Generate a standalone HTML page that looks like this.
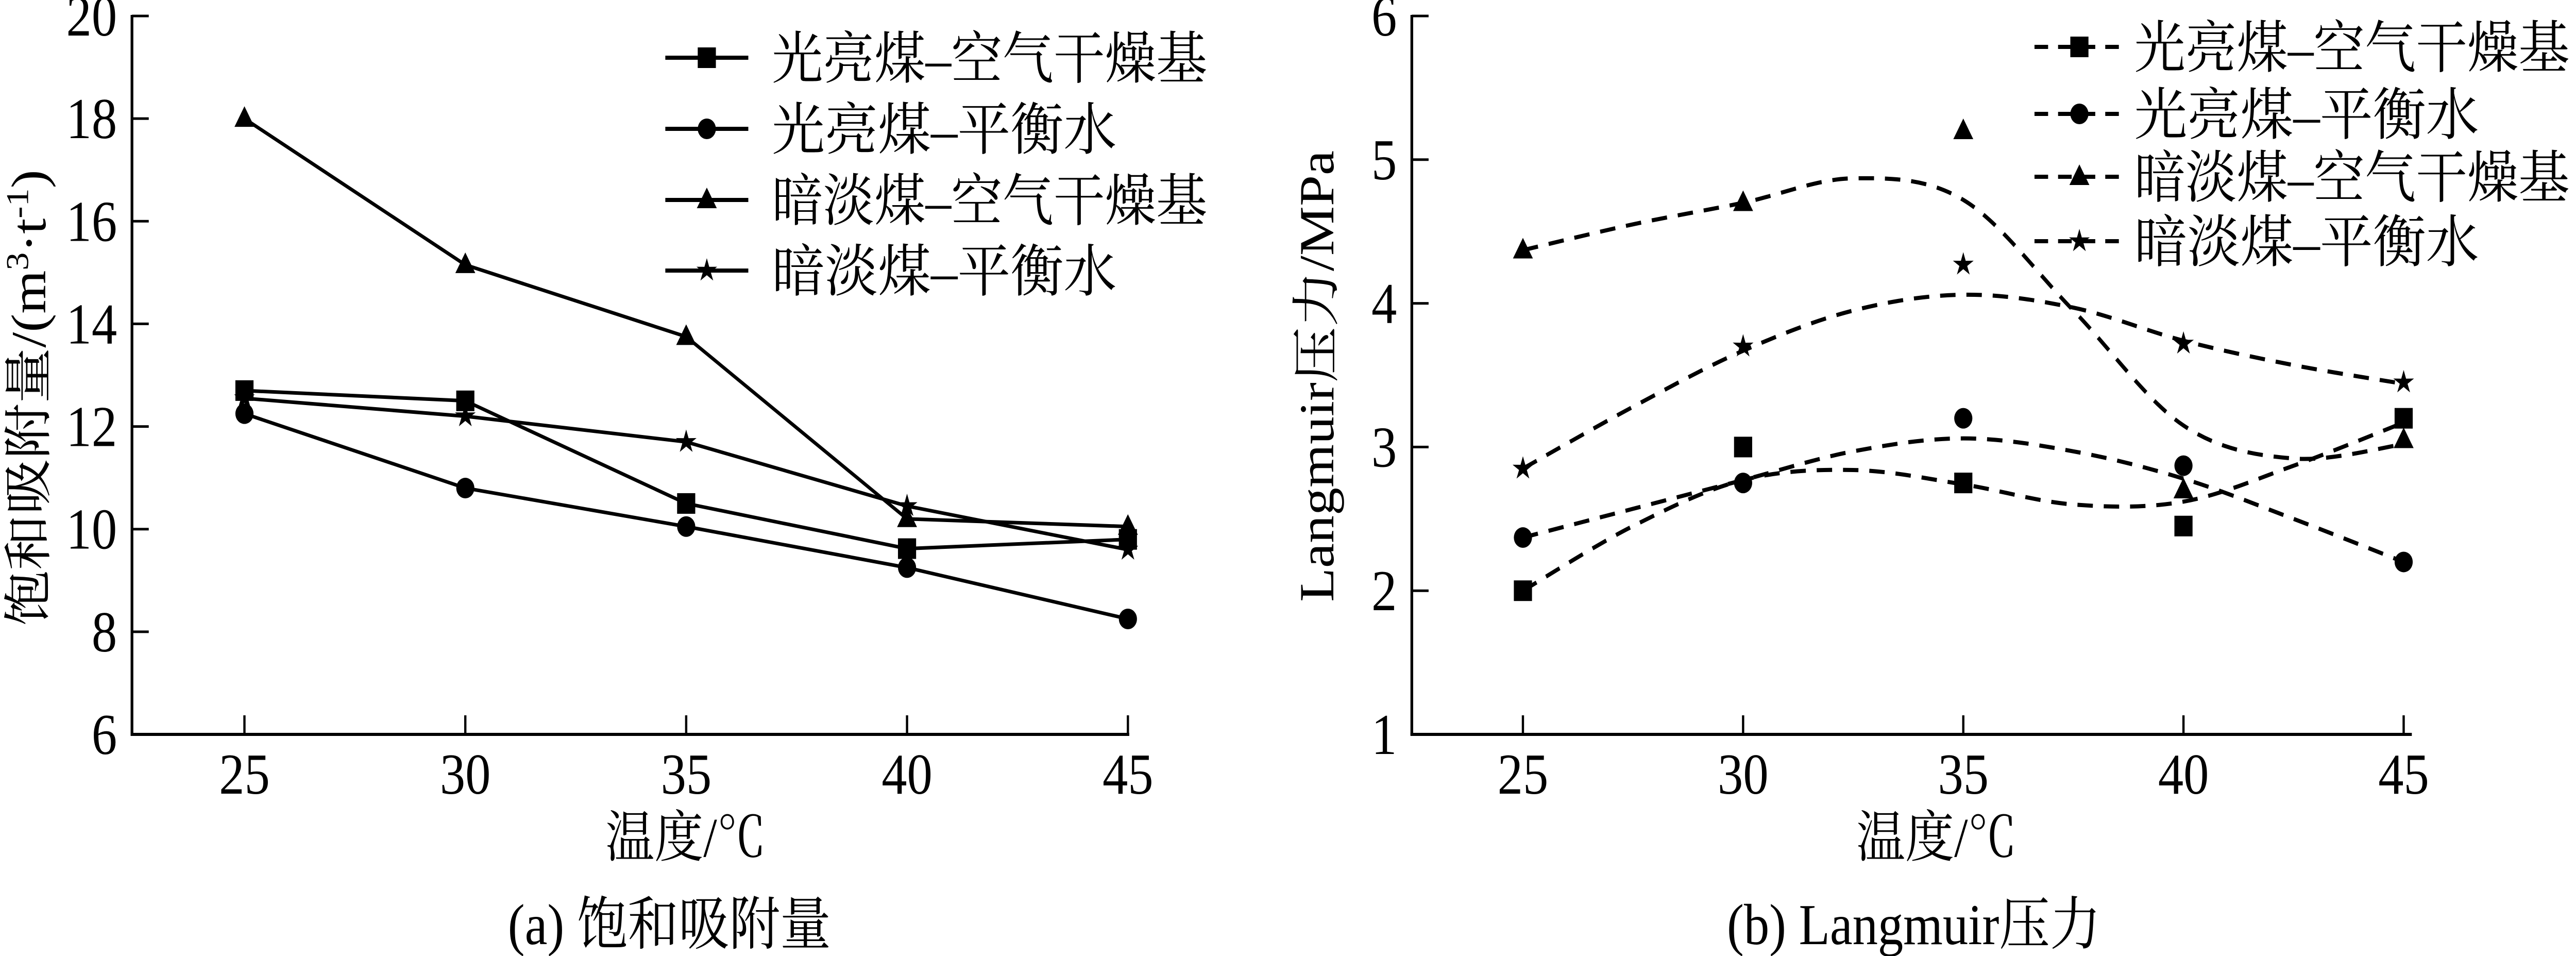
<!DOCTYPE html>
<html><head><meta charset="utf-8"><style>
html,body{margin:0;padding:0;background:#fff;width:100%;height:100%;overflow:hidden;}
svg{display:block;overflow:hidden;width:100vw;height:100vh;}
text{font-family:"Liberation Serif","Noto Serif CJK SC","Noto Sans CJK SC",serif;fill:#000;}
</style></head><body>
<svg id="fig" viewBox="0 0 5680 1855" preserveAspectRatio="none" xmlns="http://www.w3.org/2000/svg">
<g id="chartA"></g>
<g id="chartB"></g>
</svg>
<script>
const temps = [25, 30, 35, 40, 45];
const seriesNames = ["光亮煤–空气干燥基", "光亮煤–平衡水", "暗淡煤–空气干燥基", "暗淡煤–平衡水"];
const markerTypes = ["square", "circle", "triangle", "star"];
// chart (a) saturated adsorption, m3/t
const aBrightAir = [12.7, 12.5, 10.5, 9.62, 9.8];
const aBrightWater = [12.25, 10.8, 10.05, 9.25, 8.25];
const aDullAir = [18.0, 15.15, 13.75, 10.2, 10.05];
const aDullWater = [12.55, 12.2, 11.7, 10.45, 9.6];
const aTicksY = [6, 8, 10, 12, 14, 16, 18, 20];
// chart (b) Langmuir pressure, MPa
const bBrightAir = [2.0, 3.0, 2.75, 2.45, 3.2];
const bBrightWater = [2.37, 2.75, 3.2, 2.87, 2.2];
const bDullAir = [4.37, 4.7, 5.2, 2.7, 3.05];
const bDullWater = [2.85, 3.7, 4.27, 3.72, 3.45];
// fitted curves sampled at fitTemps
const fitTemps = [25, 27.5, 30, 32.5, 35, 37.5, 40, 42.5, 45];
const fitBrightAir = [2.0, 2.45, 2.77, 2.84, 2.74, 2.6, 2.62, 2.87, 3.17];
const fitBrightWater = [2.37, 2.57, 2.77, 2.97, 3.06, 2.97, 2.78, 2.5, 2.2];
const fitDullAir = [4.37, 4.55, 4.7, 4.87, 4.72, 3.95, 3.15, 2.92, 3.02];
const fitDullWater = [2.85, 3.28, 3.67, 3.95, 4.06, 3.97, 3.74, 3.57, 3.44];
const bTicksY = [1, 2, 3, 4, 5, 6];

const NS = "http://www.w3.org/2000/svg";
function mk(tag, attrs, parent) {
  const e = document.createElementNS(NS, tag);
  for (const k in attrs) e.setAttribute(k, attrs[k]);
  parent.appendChild(e);
  return e;
}
function marker(type, x, y, g) {
  let e;
  if (type === "square") e = mk("rect", {x: x - 20, y: y - 20, width: 40, height: 40, fill: "#000"}, g);
  else if (type === "circle") e = mk("circle", {cx: x, cy: y, r: 20, fill: "#000"}, g);
  else if (type === "triangle") e = mk("polygon", {points: `${x},${y - 24} ${x - 22},${y + 16} ${x + 22},${y + 16}`, fill: "#000"}, g);
  else {
    let p = [];
    for (let i = 0; i < 10; i++) {
      const r = i % 2 ? 9 : 24, a = -Math.PI / 2 + i * Math.PI / 5;
      p.push((x + r * Math.cos(a)).toFixed(1) + "," + (y + r * Math.sin(a)).toFixed(1));
    }
    e = mk("polygon", {points: p.join(" "), fill: "#000"}, g);
  }
  
  
  return e;
}
function smoothPath(pts) {
  let d = `M${pts[0][0]},${pts[0][1]}`;
  for (let i = 0; i < pts.length - 1; i++) {
    const p0 = pts[Math.max(0, i - 1)], p1 = pts[i], p2 = pts[i + 1], p3 = pts[Math.min(pts.length - 1, i + 2)];
    const c1x = p1[0] + (p2[0] - p0[0]) / 6, c1y = p1[1] + (p2[1] - p0[1]) / 6;
    const c2x = p2[0] - (p3[0] - p1[0]) / 6, c2y = p2[1] - (p3[1] - p1[1]) / 6;
    d += ` C${c1x},${c1y} ${c2x},${c2y} ${p2[0]},${p2[1]}`;
  }
  return d;
}

function drawChart(cfg) {
  const g = document.getElementById(cfg.id);
  const sx = v => cfg.x0 + (v - 25) / 20 * (cfg.x1 - cfg.x0);
  const sy = v => cfg.yBot - (v - cfg.ymin) / (cfg.ymax - cfg.ymin) * (cfg.yBot - cfg.yTop);
  const ya = mk("line", {x1: cfg.ax, y1: cfg.yTop - 2, x2: cfg.ax, y2: cfg.yBot + 2, stroke: "#000", "stroke-width": 6}, g);
  
  
  const xa = mk("line", {x1: cfg.ax - 3, y1: cfg.yBot, x2: cfg.axEnd, y2: cfg.yBot, stroke: "#000", "stroke-width": 6}, g);
  
  
  cfg.ticksY.forEach(v => {
    const y = sy(v);
    if (v !== cfg.ymin) {
      const t = mk("line", {x1: cfg.ax, y1: y, x2: cfg.ax + 37, y2: y, stroke: "#000", "stroke-width": 5}, g);
      
      
    }
    const l = mk("text", {x: cfg.ax - 33, y: y + 38, "font-size": 112, "text-anchor": "end"}, g);
    l.textContent = v;
    
    
  });
  temps.forEach(v => {
    const x = sx(v);
    const t = mk("line", {x1: x, y1: cfg.yBot, x2: x, y2: cfg.yBot - 37, stroke: "#000", "stroke-width": 5}, g);
    
    
    const l = mk("text", {x: x, y: 1540, "font-size": 112, "text-anchor": "middle"}, g);
    l.textContent = v;
    
    
  });
  const xt = mk("text", {x: cfg.xTitleX, y: 1662, "font-size": 108, "text-anchor": "middle"}, g);
  xt.textContent = "温度/℃";
  
  
  const yt = mk("text", {x: 0, y: 0, "font-size": 108, "text-anchor": "middle", transform: `translate(${cfg.yTitleX},${cfg.yTitleY}) rotate(-90)`}, g);
  yt.innerHTML = cfg.yTitle;
  
  
  const cap = mk("text", {x: cfg.capX, y: 1832, "font-size": 112, "text-anchor": "middle"}, g);
  cap.textContent = cfg.caption;
  
  
  cfg.series.forEach((vals, i) => {
    const sg = mk("g", {}, g);
    
    
    if (cfg.fits) {
      const pts = fitTemps.map((t, k) => [sx(t), sy(cfg.fits[i][k])]);
      const p = mk("path", {d: smoothPath(pts), fill: "none", stroke: "#000", "stroke-width": 8, "stroke-dasharray": "34 24"}, sg);
      
      
    } else {
      const p = mk("polyline", {points: temps.map((t, k) => sx(t) + "," + sy(vals[k])).join(" "), fill: "none", stroke: "#000", "stroke-width": 7}, sg);
      
      
    }
    temps.forEach((t, k) => marker(markerTypes[i], sx(t), sy(vals[k]), sg));
  });
  seriesNames.forEach((n, i) => {
    const lg = mk("g", {}, g);
    
    
    const y = cfg.legY[i];
    mk("line", {x1: cfg.legX0, y1: y, x2: cfg.legX1, y2: y, stroke: "#000", "stroke-width": 8, "stroke-dasharray": cfg.fits ? "30 22" : "none"}, lg);
    marker(markerTypes[i], (cfg.legX0 + cfg.legX1) / 2, y, lg);
    const t = mk("text", {x: cfg.legTX, y: y + 40, "font-size": 110}, lg);
    t.textContent = n;
    t.setAttribute('textLength', n.length === 9 ? 960 : 760);
    t.setAttribute('lengthAdjust', 'spacingAndGlyphs');
  });
}

drawChart({id: "chartA", ax: 291, axEnd: 2490, x0: 539, x1: 2487, yTop: 31, yBot: 1425, ymin: 6, ymax: 20,
  ticksY: aTicksY, series: [aBrightAir, aBrightWater, aDullAir, aDullWater], fits: null,
  xTitleX: 1512, capX: 1476, caption: "(a) 饱和吸附量",
  yTitle: '饱和吸附量/(m<tspan baseline-shift="super" font-size="70">3</tspan>·t<tspan baseline-shift="super" font-size="70">-1</tspan>)',
  yTitleX: 100, yTitleY: 772,
  legX0: 1467, legX1: 1650, legTX: 1702, legY: [112, 250, 388, 525]});
drawChart({id: "chartB", ax: 3113, axEnd: 5318, x0: 3358, x1: 5300, yTop: 31, yBot: 1425, ymin: 1, ymax: 6,
  ticksY: bTicksY, series: [bBrightAir, bBrightWater, bDullAir, bDullWater],
  fits: [fitBrightAir, fitBrightWater, fitDullAir, fitDullWater],
  xTitleX: 4270, capX: 4220, caption: "(b) Langmuir压力",
  yTitle: 'Langmuir压力/MPa', yTitleX: 2940, yTitleY: 730,
  legX0: 4486, legX1: 4684, legTX: 4706, legY: [91, 221, 343, 468]});
</script>
</body></html>
